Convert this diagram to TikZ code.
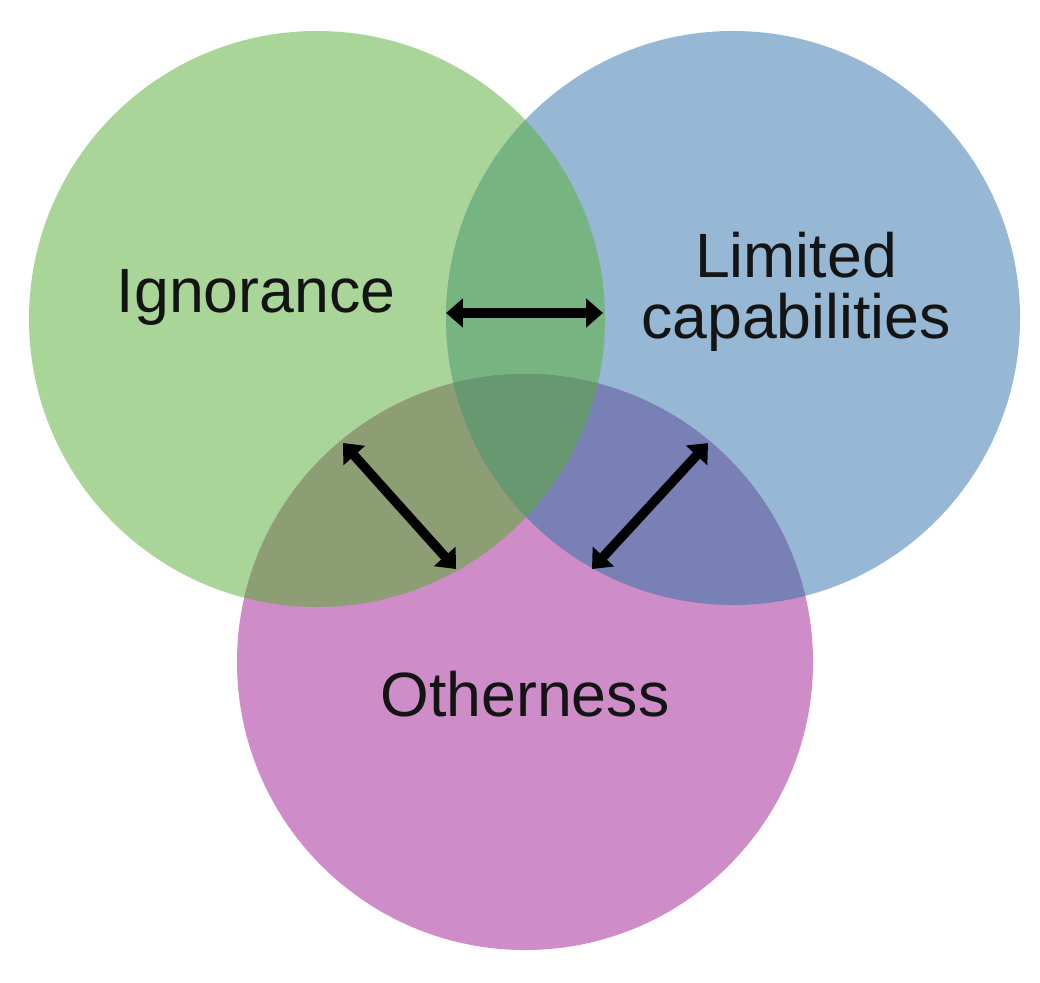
\documentclass[tikz,border=0pt]{standalone}
\usepackage{fontspec}
\setmainfont{Liberation Sans}
\usetikzlibrary{arrows.meta}
\definecolor{cG}{RGB}{169,214,152}
\definecolor{cB}{RGB}{150,184,212}
\definecolor{cP}{RGB}{206,140,200}
\definecolor{cGB}{RGB}{118,180,130}
\definecolor{cGP}{RGB}{141,158,116}
\definecolor{cBP}{RGB}{121,128,182}
\definecolor{cGBP}{RGB}{104,152,112}
\definecolor{txt}{RGB}{20,20,20}
\tikzset{
  lbl/.style={font=\fontsize{17.8pt}{17.2pt}\selectfont, text=txt, align=center, inner sep=0pt},
  dbl/.style={line width=2.7pt, {Triangle[length=4.8pt,width=8pt]}-{Triangle[length=4.8pt,width=8pt]}, black}
}
\begin{document}
\begin{tikzpicture}[x=0.01cm,y=-0.01cm]
\useasboundingbox (0,0) rectangle (1040,982);
\fill[white] (0,0) rectangle (1040,982);
\def\gc{(317,319) circle (288)}
\def\bc{(733,318) circle (287)}
\def\pc{(525,662) circle (288)}
\fill[cG] \gc;
\fill[cB] \bc;
\fill[cP] \pc;
\begin{scope}\clip \gc; \fill[cGB] \bc; \end{scope}
\begin{scope}\clip \gc; \fill[cGP] \pc; \end{scope}
\begin{scope}\clip \bc; \fill[cBP] \pc; \end{scope}
\begin{scope}\clip \gc; \clip \bc; \fill[cGBP] \pc; \end{scope}
\node[lbl] (ign) at (256,297) {Ignorance};
\node[lbl] (lim) at (796,292) {Limited\\capabilities};
\node[lbl] (oth) at (525,694) {Otherness};
\coordinate (h1) at (446,313);
\coordinate (h2) at (603,313);
\coordinate (l1) at (343,443);
\coordinate (l2) at (456,569);
\coordinate (r1) at (708,443);
\coordinate (r2) at (592,569);
\draw[dbl] (h1) -- (h2);
\draw[dbl] (l1) -- (l2);
\draw[dbl] (r1) -- (r2);
\end{tikzpicture}
\end{document}
